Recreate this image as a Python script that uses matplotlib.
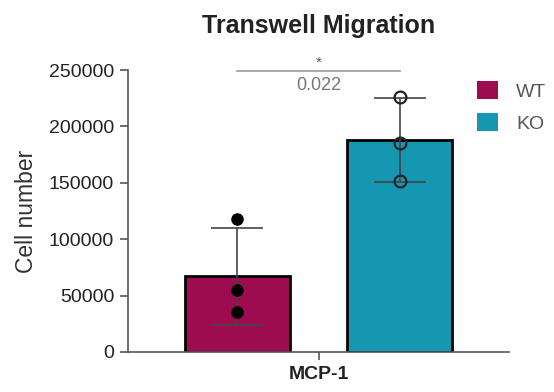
import matplotlib
matplotlib.use("Agg")
import matplotlib.pyplot as plt
from matplotlib.patches import Patch

plt.rcParams['font.family'] = ['Liberation Sans', 'DejaVu Sans']

# values
groups = ['WT', 'KO']
category = 'MCP-1'
bar_means = [67000, 188000]
bar_sd = [43000, 37200]
wt_points = [117500, 54800, 35300]
ko_points = [226000, 185500, 152000]
p_value = '0.022'
yticks = [0, 50000, 100000, 150000, 200000, 250000]

colors = ['#9c0c4e', '#1597b2']
xpos = [-0.4, 0.4]

fig = plt.figure(figsize=(5.54, 3.92), dpi=100)
ax = fig.add_axes([128/554, 40/392, 381/554, 282/392])

ax.bar(xpos, bar_means, width=0.517, color=colors, edgecolor='black',
       linewidth=2, zorder=2)
ax.errorbar(xpos, bar_means, yerr=bar_sd, fmt='none', ecolor='#444444',
            elinewidth=1.2, capsize=19, capthick=1.2, zorder=3)
ax.plot([xpos[0]] * len(wt_points), wt_points, 'o', color='black',
        markersize=8, zorder=4)
ax.plot([xpos[1]] * len(ko_points), ko_points, 'o', markerfacecolor='none',
        markeredgecolor='#222222', markeredgewidth=1.6, markersize=8.5, zorder=4)

ax.set_xlim(-0.94, 0.94)
ax.set_ylim(0, 250000)
ax.set_yticks(yticks)
ax.set_yticklabels([str(v) for v in yticks])
ax.set_xticks([0])
ax.set_xticklabels([category], fontweight='bold')

for s in ['top', 'right']:
    ax.spines[s].set_visible(False)
for s in ['left', 'bottom']:
    ax.spines[s].set_color('#555555')
    ax.spines[s].set_linewidth(1.2)
ax.tick_params(axis='both', length=6, width=1.2, color='#555555',
               labelsize=14, labelcolor='#222222', pad=4)

ax.set_ylabel('Cell number', fontsize=16.5, color='#333333', labelpad=8)
ax.set_title('Transwell Migration', fontsize=18, fontweight='bold',
             color='#222222', pad=27)

# significance bracket
ax.plot(xpos, [249000, 249000], color='#999999', lw=1.2, clip_on=False)
ax.text(0, 250500, '*', ha='center', va='bottom', fontsize=11,
        color='#555555')
ax.text(0, 236000, p_value, ha='center', va='center', fontsize=13,
        color='#777777')

handles = [Patch(facecolor=c, edgecolor='none') for c in colors]
fig.legend(handles, groups, loc='upper left',
           bbox_to_anchor=(477/554, 1 - 81/392), frameon=False,
           fontsize=14, handlelength=1.1, handleheight=1.05,
           handletextpad=0.9, labelspacing=0.65, borderpad=0,
           borderaxespad=0, labelcolor='#555555')

fig.savefig('out.png', dpi=100)
